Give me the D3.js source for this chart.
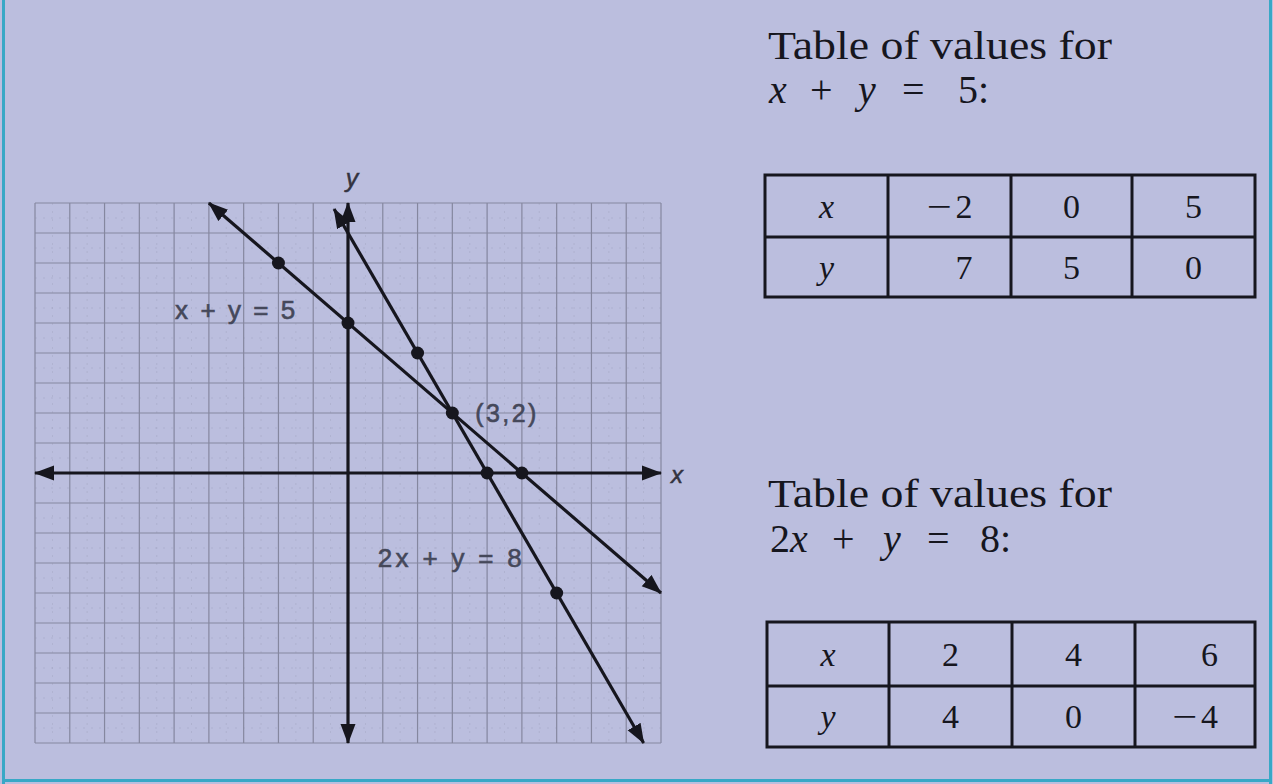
<!DOCTYPE html>
<html>
<head>
<meta charset="utf-8">
<script src="https://cdn.jsdelivr.net/npm/d3@7"></script>
<style>
  html, body { margin: 0; padding: 0; background: #BBBEDE; }
  svg { display: block; }
</style>
</head>
<body>
<svg id="chart" width="1273" height="784"></svg>
<script>
// ---------------- DATA ----------------
const gridTicks = d3.range(-9, 10);           // grid lines at each unit
const line1Label = "x + y = 5";
const line1X = [-2, 0, 5];
const line1Y = [7, 5, 0];
const line1Ends = [[-4, 9], [9, -4]];
const line2Label = "2x + y = 8";
const line2X = [2, 4, 6];
const line2Y = [4, 0, -4];
const line2Ends = [[-0.4, 8.8], [8.5, -9]];
const intersection = [3, 2];
const intersectionLabel = "(3,2)";
const tableTitle = "Table of values for";
const table1Rows = [["x", "\u22122", "0", "5"], ["y", "7", "5", "0"]];
const table2Rows = [["x", "2", "4", "6"], ["y", "4", "0", "\u22124"]];

// ---------------- SETUP ----------------
const svg = d3.select("#chart");
const W = 1273, H = 784;
svg.append("rect").attr("width", W).attr("height", H).attr("fill", "#BBBEDE");

const x = d3.scaleLinear().domain([-9, 9]).range([35, 661]);
const y = d3.scaleLinear().domain([-9, 9]).range([743, 203]);

const ink = "#16161e";
const sans = "'Liberation Sans', Arial, Helvetica, sans-serif";
const serif = "'Liberation Serif', 'Times New Roman', Times, serif";

const defs = svg.append("defs");
defs.append("marker")
  .attr("id", "arrow")
  .attr("markerUnits", "userSpaceOnUse")
  .attr("viewBox", "0 -8 20 16")
  .attr("refX", 19).attr("refY", 0)
  .attr("markerWidth", 20).attr("markerHeight", 16)
  .attr("orient", "auto-start-reverse")
  .append("path")
  .attr("d", "M0,-7.5L20,0L0,7.5Z")
  .attr("fill", ink);

// ---------------- GRID ----------------
const grid = svg.append("g");
const minor = d3.range(-8.5, 9, 1);
grid.selectAll("line.mv").data(minor).join("line")
  .attr("x1", d => x(d)).attr("x2", d => x(d))
  .attr("y1", y(9)).attr("y2", y(-9))
  .attr("stroke", "#9c9eb8").attr("stroke-width", 0.6)
  .attr("stroke-dasharray", "2,6").attr("opacity", 0.6);
grid.selectAll("line.mh").data(minor).join("line")
  .attr("y1", d => y(d)).attr("y2", d => y(d))
  .attr("x1", x(-9)).attr("x2", x(9))
  .attr("stroke", "#9c9eb8").attr("stroke-width", 0.6)
  .attr("stroke-dasharray", "2,6").attr("opacity", 0.6);
grid.selectAll("line.v").data(gridTicks).join("line")
  .attr("x1", d => x(d)).attr("x2", d => x(d))
  .attr("y1", y(9)).attr("y2", y(-9))
  .attr("stroke", "#85879f").attr("stroke-width", 1.2);
grid.selectAll("line.h").data(gridTicks).join("line")
  .attr("y1", d => y(d)).attr("y2", d => y(d))
  .attr("x1", x(-9)).attr("x2", x(9))
  .attr("stroke", "#85879f").attr("stroke-width", 1.2);

// ---------------- AXES ----------------
svg.append("line")
  .attr("x1", x(-9)).attr("x2", x(9)).attr("y1", y(0)).attr("y2", y(0))
  .attr("stroke", ink).attr("stroke-width", 3.2)
  .attr("marker-start", "url(#arrow)").attr("marker-end", "url(#arrow)");
svg.append("line")
  .attr("x1", x(0)).attr("x2", x(0)).attr("y1", y(-9)).attr("y2", y(9))
  .attr("stroke", ink).attr("stroke-width", 3.2)
  .attr("marker-start", "url(#arrow)").attr("marker-end", "url(#arrow)");

svg.append("text").text("x")
  .attr("x", x(9) + 10).attr("y", y(0) + 10)
  .attr("font-family", sans).attr("font-style", "italic").attr("font-size", 24)
  .attr("fill", "#33333f").attr("stroke", "#33333f").attr("stroke-width", 0.5);
svg.append("text").text("y")
  .attr("x", x(0) + 4).attr("y", y(9) - 16).attr("text-anchor", "middle")
  .attr("font-family", sans).attr("font-style", "italic").attr("font-size", 25)
  .attr("fill", "#33333f").attr("stroke", "#33333f").attr("stroke-width", 0.5);

// ---------------- LINES ----------------
const lineGen = d3.line().x(d => x(d[0])).y(d => y(d[1]));
[line1Ends, line2Ends].forEach(ends => {
  svg.append("path")
    .attr("d", lineGen(ends))
    .attr("fill", "none").attr("stroke", ink).attr("stroke-width", 3.2)
    .attr("marker-start", "url(#arrow)").attr("marker-end", "url(#arrow)");
});

const pts = line1X.map((v, i) => [v, line1Y[i]])
  .concat(line2X.map((v, i) => [v, line2Y[i]]))
  .concat([intersection]);
svg.selectAll("circle.pt").data(pts).join("circle")
  .attr("cx", d => x(d[0])).attr("cy", d => y(d[1])).attr("r", 6.5)
  .attr("fill", ink);

// labels
const lblColor = "#45485a";
function lbl(s, px, py, len, fs) {
  svg.append("text").text(s)
    .attr("x", px).attr("y", py)
    .attr("textLength", len).attr("lengthAdjust", "spacing")
    .attr("font-family", sans).attr("font-size", fs)
    .attr("fill", lblColor).attr("stroke", lblColor).attr("stroke-width", 0.6);
}
lbl(line1Label, x(-5) + 1, y(5) - 4, 120, 26);
lbl(intersectionLabel, x(intersection[0]) + 23, y(intersection[1]) + 9, 61, 25);
lbl(line2Label, x(1) - 5, y(-3) + 4, 144, 26);

// ---------------- TABLES ----------------
function drawTitle(eqTokens, baseTitle, baseEq) {
  svg.append("text").text(tableTitle)
    .attr("x", 768).attr("y", baseTitle)
    .attr("textLength", 344).attr("lengthAdjust", "spacingAndGlyphs")
    .attr("font-family", serif).attr("font-size", 40).attr("fill", ink);
  const t = svg.append("text").attr("y", baseEq)
    .attr("font-family", serif).attr("font-size", 40).attr("fill", ink);
  eqTokens.forEach(tok => {
    t.append("tspan").attr("x", tok.x).text(tok.s)
      .attr("font-style", tok.it ? "italic" : "normal");
  });
}

function cellText(g, s, yb, italic) {
  const t = g.append("text").attr("y", yb)
    .attr("font-family", serif).attr("font-size", 34)
    .attr("font-style", italic ? "italic" : "normal")
    .attr("fill", ink);
  if (s.startsWith("\u2212")) {
    t.append("tspan").text("\u2212").attr("textLength", 25).attr("lengthAdjust", "spacingAndGlyphs");
    t.append("tspan").text(s.slice(1)).attr("dx", 4);
  } else {
    t.text(s);
  }
  return t;
}

function drawTable(rows, left, cols, top, mid, bottom, baselines) {
  const g = svg.append("g");
  const right = cols[cols.length - 1];
  g.append("rect").attr("x", left).attr("y", top)
    .attr("width", right - left).attr("height", bottom - top)
    .attr("fill", "none").attr("stroke", ink).attr("stroke-width", 3);
  g.append("line").attr("x1", left).attr("x2", right).attr("y1", mid).attr("y2", mid)
    .attr("stroke", ink).attr("stroke-width", 3);
  cols.slice(0, -1).forEach(c => {
    g.append("line").attr("x1", c).attr("x2", c).attr("y1", top).attr("y2", bottom)
      .attr("stroke", ink).attr("stroke-width", 3);
  });
  const edges = [left].concat(cols);
  for (let c = 0; c < 4; c++) {
    const cx = (edges[c] + edges[c + 1]) / 2;
    const texts = rows.map((r, ri) => cellText(g, r[c], baselines[ri], c === 0));
    if (c === 0) {
      texts.forEach(t => t.attr("x", cx).attr("text-anchor", "middle"));
    } else {
      const widths = texts.map(t => t.node().getBBox().width);
      const maxW = d3.max(widths);
      texts.forEach((t, i) => t.attr("x", cx + maxW / 2 - widths[i]));
    }
  }
}

drawTitle([
  {s: "x", x: 769, it: true}, {s: "+", x: 810}, {s: "y", x: 858, it: true},
  {s: "=", x: 902}, {s: "5:", x: 958}
], 59, 103);
drawTable(table1Rows, 765, [888, 1011, 1132, 1255], 175, 237, 297, [218, 279]);

drawTitle([
  {s: "2", x: 770}, {s: "x", x: 790, it: true}, {s: "+", x: 832}, {s: "y", x: 883, it: true},
  {s: "=", x: 927}, {s: "8:", x: 980}
], 507, 552);
drawTable(table2Rows, 767, [889, 1012, 1135, 1255], 622, 686, 747, [666, 728]);

// ---------------- FRAME ----------------
const teal = "#38A8C6";
svg.append("rect").attr("x", 2).attr("y", 0).attr("width", 3).attr("height", H).attr("fill", teal);
svg.append("rect").attr("x", W - 4).attr("y", 0).attr("width", 3).attr("height", H).attr("fill", teal);
svg.append("rect").attr("x", 2).attr("y", H - 5).attr("width", W - 3).attr("height", 3).attr("fill", teal);
</script>
</body>
</html>
